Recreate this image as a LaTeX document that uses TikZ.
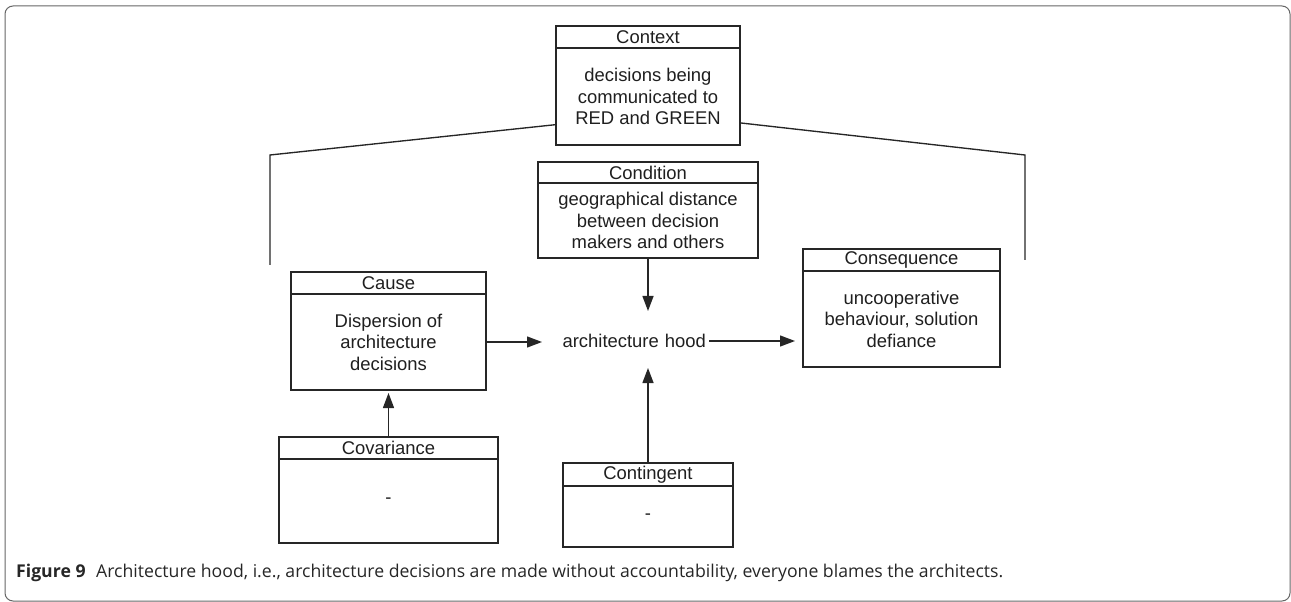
\documentclass[tikz,border=0pt]{standalone}
\usepackage{graphicx}
\usepackage{fontspec}
\setmainfont{Liberation Sans}
\newfontfamily\capfont{Open Sans}
\usetikzlibrary{arrows.meta}
\begin{document}
\begin{tikzpicture}[x=1bp,y=-1bp,
  lbl/.style={font=\fontsize{18.5}{21.5}\selectfont, text=black!88},
  boxpart/.style={draw=black!85, line width=1.35bp, rectangle, inner sep=0pt, outer sep=0pt, lbl, align=center},
  conn/.style={draw=black!85, line width=1.35bp},
  arr/.style={conn, -{Triangle[length=15bp,width=11bp]}},
]
\useasboundingbox (0,0) rectangle (1291,602);
\draw[black!60, line width=1bp, rounded corners=8bp] (5,6) rectangle (1290,601);

% Context
\node[boxpart, minimum width=184bp, minimum height=22bp] (ctxh) at (648,37) {Context};
\node[boxpart, minimum width=184bp, minimum height=97bp] (ctxb) at (648,96.5) {decisions being\\communicated to\\RED and GREEN};
% Condition
\node[boxpart, minimum width=220bp, minimum height=21bp] (condh) at (648,172.5) {Condition};
\node[boxpart, minimum width=220bp, minimum height=75bp] (condb) at (648,220.5) {geographical distance\\between decision\\makers and others};
% Cause
\node[boxpart, minimum width=195bp, minimum height=22bp] (causeh) at (388.5,283) {Cause};
\node[boxpart, minimum width=195bp, minimum height=96bp] (causeb) at (388.5,342) {Dispersion of\\architecture\\decisions};
% Consequence
\node[boxpart, minimum width=197bp, minimum height=22bp] (consh) at (901.5,260) {Consequence};
\node[boxpart, minimum width=197bp, minimum height=96bp] (consb) at (901.5,319) {uncooperative\\behaviour, solution\\defiance};
% Covariance
\node[boxpart, minimum width=219bp, minimum height=22bp] (covh) at (388.5,448) {Covariance};
\node[boxpart, minimum width=219bp, minimum height=84bp] (covb) at (388.5,501) {-};
% Contingent
\node[boxpart, minimum width=170bp, minimum height=23bp] (conth) at (648,474.5) {Contingent};
\node[boxpart, minimum width=170bp, minimum height=61bp] (contb) at (648,516.5) {-};
% Central phenomenon
\node[lbl, inner sep=0pt, outer sep=0pt, text width=164bp, align=right, minimum height=60bp] (hood) at (624,341) {architecture hood};

% Context legs
\coordinate (lt) at (270,155);
\coordinate (lb) at (270,265);
\coordinate (rt) at (1025,155);
\coordinate (rb) at (1025,260);
\draw[conn] (ctxb.197) -- (lt) -- (lb);
\draw[conn] (ctxb.344) -- (rt) -- (rb);

% Arrows
\draw[arr] (causeb.east) -- (causeb.east -| hood.west);
\draw[arr, shorten <=3bp, shorten >=8bp] (hood.east) -- (hood.east -| consb.west);
\draw[arr] (condb.south) -- (condb.south |- hood.north);
\draw[arr, shorten >=-3bp] (conth.north) -- (conth.north |- hood.south);
\draw[arr, shorten >=3bp] (covh.north) -- (causeb.south);

% Caption
\node[anchor=west, inner sep=0pt] (cap) at (16,573) {\resizebox{987bp}{!}{\capfont\fontsize{16}{19}\selectfont\color{black!85}\textbf{Figure 9}\hspace{0.6em}Architecture hood, i.e., architecture decisions are made without accountability, everyone blames the architects.}};
\end{tikzpicture}
\end{document}
